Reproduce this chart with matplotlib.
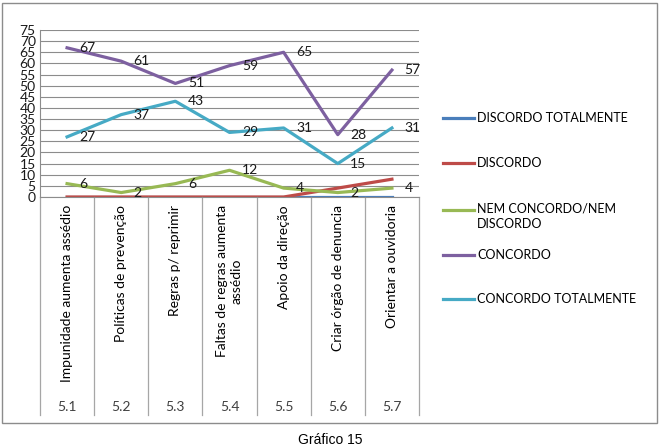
import numpy as np
import matplotlib.pyplot as plt
import matplotlib.transforms as mtransforms
from matplotlib.patches import Rectangle
from matplotlib.lines import Line2D

# data
codes = ['5.1', '5.2', '5.3', '5.4', '5.5', '5.6', '5.7']
items = ['Impunidade aumenta assédio', 'Políticas de prevenção', 'Regras p/ reprimir',
         'Faltas de regras aumenta\nassédio', 'Apoio da direção', 'Criar órgão de denuncia',
         'Orientar a ouvidoria']
discordo_total = [0, 0, 0, 0, 0, 0, 0]
discordo = [0, 0, 0, 0, 0, 4, 8]
nem_nem = [6, 2, 6, 12, 4, 2, 4]
concordo = [67, 61, 51, 59, 65, 28, 57]
concordo_total = [27, 37, 43, 29, 31, 15, 31]

series_names = ['DISCORDO TOTALMENTE', 'DISCORDO', 'NEM CONCORDO/NEM\nDISCORDO',
                'CONCORDO', 'CONCORDO TOTALMENTE']
series_vals = [discordo_total, discordo, nem_nem, concordo, concordo_total]
colors = ['#4A7EBB', '#BE4B48', '#98B954', '#7D60A0', '#46AAC5']
show_labels = [False, False, True, True, True]

FONT = ['Lato', 'DejaVu Sans']
plt.rcParams['font.family'] = FONT

W, H = 660, 448
fig = plt.figure(figsize=(W / 100, H / 100), dpi=100)

def fx(px):
    return px / W

def fy(py):
    return 1 - py / H

left, right, top, bottom = 40, 419, 30, 197
ax = fig.add_axes([fx(left), fy(bottom), fx(right - left), (bottom - top) / H])

x = np.arange(len(codes))
for vals, c, name, lab in zip(series_vals, colors, series_names, show_labels):
    ax.plot(x, vals, color=c, lw=2.3, solid_joinstyle='round')
    if lab:
        for xi, v in zip(x, vals):
            ax.annotate(str(v), (xi, v), xytext=(9, 0), textcoords='offset points',
                        ha='left', va='center', fontsize=10, color='#1a1a1a')

ax.set_xlim(-0.5, len(codes) - 0.5)
ax.set_ylim(0, 75)
ax.set_yticks(np.arange(0, 76, 5))
ax.tick_params(axis='y', labelsize=10, length=0, pad=3, labelcolor='#1a1a1a')
ax.set_xticks([])
ax.grid(axis='y', color='#8C8C8C', lw=0.8)
ax.set_axisbelow(True)
for s in ['top', 'right']:
    ax.spines[s].set_visible(False)
ax.spines['left'].set_color('#8C8C8C')
ax.spines['bottom'].set_color('#8C8C8C')

# multi-level category axis
trans = mtransforms.blended_transform_factory(ax.transData, ax.transAxes)
px_per_axes = bottom - top
sep_bottom = -(415 - bottom) / px_per_axes
for b in np.arange(-0.5, len(codes), 1.0):
    ax.plot([b, b], [0, sep_bottom], transform=trans, clip_on=False,
            color='#A6A6A6', lw=0.9)
for xi, (item, code) in enumerate(zip(items, codes)):
    ax.text(xi, -(205 - bottom) / px_per_axes, item, transform=trans, rotation=90,
            ha='center', va='top', multialignment='center', fontsize=10)
    ax.text(xi, -(407 - bottom) / px_per_axes, code, transform=trans,
            ha='center', va='center', fontsize=10, color='#404040')

# legend drawn at the Excel positions
leg_y = [118, 163, 210, 255, 299]
for name, c, ly in zip(series_names, colors, leg_y):
    fig.add_artist(Line2D([fx(443), fx(474)], [fy(ly), fy(ly)], color=c, lw=2.3))
    if '\n' in name:
        fig.text(fx(477), fy(ly - 8), name, ha='left', va='top', fontsize=9,
                 linespacing=1.4)
    else:
        fig.text(fx(477), fy(ly), name, ha='left', va='center', fontsize=9)

# outer chart border
fig.add_artist(Rectangle((fx(2), fy(423)), fx(655), (423 - 3) / H, transform=fig.transFigure,
                         fill=False, edgecolor='#8C8C8C', lw=1.0))

fig.text(0.5, fy(440), 'Gráfico 15', ha='center', va='center', fontsize=10,
         family=['Liberation Sans', 'DejaVu Sans'])

fig.savefig('out.png', dpi=100)
